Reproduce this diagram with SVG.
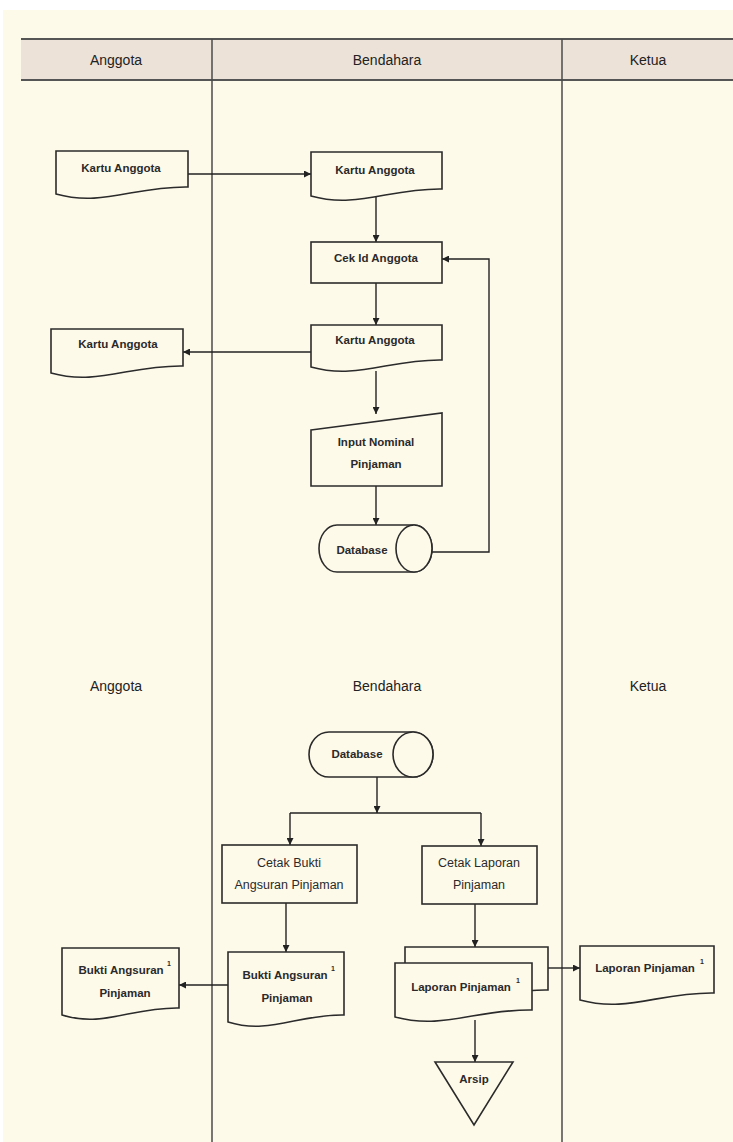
<svg xmlns="http://www.w3.org/2000/svg" width="733" height="1142" viewBox="0 0 733 1142">
<style>
.bg{fill:#FEFAEA}
.hdr{fill:#EDE2D7}
.lane{stroke:#4a4a4a;stroke-width:1.5;fill:none}
.hl{stroke:#555;stroke-width:2.2;fill:none}
.shape{fill:#FEFAEA;stroke:#2b2b2b;stroke-width:1.6}
.c{fill:none;stroke:#222;stroke-width:1.4}
.ht{font-family:"Liberation Sans",Arial,sans-serif;font-size:14px;fill:#222;text-anchor:middle}
.t{font-family:"Liberation Sans",Arial,sans-serif;font-size:11.5px;font-weight:bold;fill:#2a2a2a;text-anchor:middle}
.tr{font-family:"Liberation Sans",Arial,sans-serif;font-size:12.5px;fill:#2a2a2a;text-anchor:middle}
.sup{font-family:"Liberation Sans",Arial,sans-serif;font-size:7px;font-weight:bold;fill:#2a2a2a}
</style>
<defs>
<marker id="arr" viewBox="0 0 10 10" refX="10" refY="5" markerWidth="7" markerHeight="7" markerUnits="userSpaceOnUse" orient="auto">
<path d="M0,0 L10,5 L0,10 Z" fill="#222"/>
</marker>
</defs>
<rect x="0" y="0" width="733" height="1142" fill="#ffffff"/>
<rect class="bg" x="3" y="10" width="730" height="1132"/>
<g id="header">
<rect class="hdr" x="21" y="39" width="712" height="41"/>
<line class="hl" x1="21" y1="39" x2="733" y2="39"/>
<line class="hl" x1="21" y1="80" x2="733" y2="80"/>
<text class="ht" x="116" y="65">Anggota</text>
<text class="ht" x="387" y="65">Bendahara</text>
<text class="ht" x="648" y="65">Ketua</text>
</g>
<g id="lanes">
<line class="lane" x1="212" y1="39" x2="212" y2="1142"/>
<line class="lane" x1="562" y1="39" x2="562" y2="1142"/>
<text class="ht" x="116" y="691">Anggota</text>
<text class="ht" x="387" y="691">Bendahara</text>
<text class="ht" x="648" y="691">Ketua</text>
</g>
<g id="connectors">
<path class="c" d="M188,174 H311" marker-end="url(#arr)"/>
<path class="c" d="M376,197 V242" marker-end="url(#arr)"/>
<path class="c" d="M376,283 V325" marker-end="url(#arr)"/>
<path class="c" d="M311,352 H183" marker-end="url(#arr)"/>
<path class="c" d="M376,371 V414" marker-end="url(#arr)"/>
<path class="c" d="M376,486 V525" marker-end="url(#arr)"/>
<path class="c" d="M432,552 H489 V259 H442" marker-end="url(#arr)"/>
<path class="c" d="M377,777 V813" marker-end="url(#arr)"/>
<path class="c" d="M290,813 H481"/>
<path class="c" d="M290,813 V845" marker-end="url(#arr)"/>
<path class="c" d="M481,813 V846" marker-end="url(#arr)"/>
<path class="c" d="M286,903 V952" marker-end="url(#arr)"/>
<path class="c" d="M228,985 H179" marker-end="url(#arr)"/>
<path class="c" d="M475,904 V947" marker-end="url(#arr)"/>
<path class="c" d="M548,968 H580" marker-end="url(#arr)"/>
<path class="c" d="M475,1020 V1062" marker-end="url(#arr)"/>
</g>
<g id="kartu-anggota-1">
<path class="shape" d="M56,151 H188 V187 C135,186 102,207 56,194 Z"/>
<text class="t" x="121" y="172">Kartu Anggota</text>
</g>
<g id="kartu-anggota-b1">
<path class="shape" d="M311,152 H442 V189 C390,188 357,209 311,196 Z"/>
<text class="t" x="375" y="174">Kartu Anggota</text>
</g>
<g id="cek-id">
<rect class="shape" x="311" y="242" width="131" height="41"/>
<text class="t" x="376" y="262">Cek Id Anggota</text>
</g>
<g id="kartu-anggota-b2">
<path class="shape" d="M311,325 H442 V360 C390,359 357,380 311,367 Z"/>
<text class="t" x="375" y="344">Kartu Anggota</text>
</g>
<g id="kartu-anggota-2">
<path class="shape" d="M51,329 H183 V366 C130,365 97,386 51,373 Z"/>
<text class="t" x="118" y="348">Kartu Anggota</text>
</g>
<g id="input-nominal">
<path class="shape" d="M311,430 L442,413 V486 H311 Z"/>
<text class="t" x="376" y="446">Input Nominal</text>
<text class="t" x="376" y="468">Pinjaman</text>
</g>
<g id="database-1">
<path class="shape" d="M337,525 H414 A18,23.5 0 0 1 414,572 H337 A18,23.5 0 0 1 337,525 Z"/>
<ellipse class="shape" cx="414" cy="548.5" rx="18" ry="23.5"/>
<text class="t" x="362" y="554">Database</text>
</g>
<g id="database-2">
<path class="shape" d="M329,732 H413 A20,22.5 0 0 1 413,777 H329 A20,22.5 0 0 1 329,732 Z"/>
<ellipse class="shape" cx="413" cy="754.5" rx="20" ry="22.5"/>
<text class="t" x="357" y="758">Database</text>
</g>
<g id="cetak-bukti">
<rect class="shape" x="222" y="845" width="135" height="58"/>
<text class="tr" x="289" y="867">Cetak Bukti</text>
<text class="tr" x="289" y="889">Angsuran Pinjaman</text>
</g>
<g id="cetak-laporan">
<rect class="shape" x="422" y="846" width="115" height="58"/>
<text class="tr" x="479" y="867">Cetak Laporan</text>
<text class="tr" x="479" y="889">Pinjaman</text>
</g>
<g id="bukti-angsuran-b">
<path class="shape" d="M228,952 H344 V1015 C298,1014 269,1035 228,1022 Z"/>
<text class="t" x="285" y="979">Bukti Angsuran</text>
<text class="sup" x="331" y="971">1</text>
<text class="t" x="287" y="1002">Pinjaman</text>
</g>
<g id="bukti-angsuran-a">
<path class="shape" d="M62,948 H179 V1008 C132,1007 103,1028 62,1015 Z"/>
<text class="t" x="121" y="974">Bukti Angsuran</text>
<text class="sup" x="167" y="966">1</text>
<text class="t" x="125" y="997">Pinjaman</text>
</g>
<g id="laporan-pinjaman-b">
<path class="shape" d="M405,947 H548 V990 C491,989 456,1010 405,997 Z"/>
<path class="shape" d="M395,963 H532 V1010 C477,1009 443,1030 395,1017 Z"/>
<text class="t" x="461" y="991">Laporan Pinjaman</text>
<text class="sup" x="516" y="983">1</text>
</g>
<g id="laporan-pinjaman-k">
<path class="shape" d="M580,946 H714 V993 C660,992 627,1013 580,1000 Z"/>
<text class="t" x="645" y="972">Laporan Pinjaman</text>
<text class="sup" x="700" y="964">1</text>
</g>
<g id="arsip">
<path class="shape" d="M435,1062 H513 L474,1125 Z"/>
<text class="t" x="474" y="1083">Arsip</text>
</g>
</svg>
